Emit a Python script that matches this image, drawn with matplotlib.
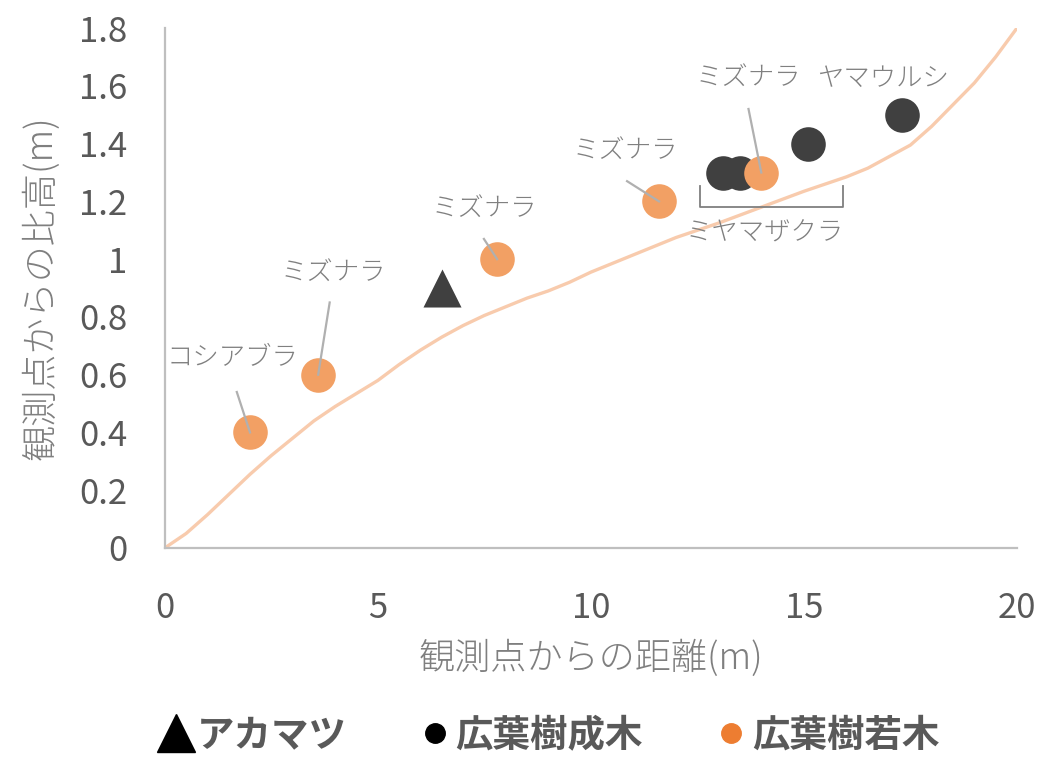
'''
Scatter of tree heights vs distance from the observation point, with sight line
'''

import matplotlib
matplotlib.use('Agg')
from matplotlib import pyplot as plt
from matplotlib.lines import Line2D

plt.rcParams['font.family'] = ['Noto Sans CJK JP', 'DejaVu Sans']

# sight line
curve_x = [0, 0.5, 1, 1.5, 2, 2.5, 3, 3.5, 4, 4.5, 5, 5.5, 6, 6.5, 7, 7.5, 8,
           8.5, 9, 9.5, 10, 11, 12, 13, 14, 15, 16, 16.5, 17, 17.5, 18, 18.5,
           19, 19.5, 20]
curve_y = [0, 0.05, 0.115, 0.185, 0.255, 0.32, 0.38, 0.44, 0.49, 0.535, 0.58,
           0.635, 0.685, 0.73, 0.77, 0.805, 0.835, 0.865, 0.89, 0.92, 0.955,
           1.015, 1.075, 1.125, 1.18, 1.235, 1.285, 1.315, 1.355, 1.395, 1.46,
           1.535, 1.61, 1.7, 1.8]

# アカマツ
pine_x = [6.5]
pine_y = [0.9]

# 広葉樹成木
adult_x = [13.1, 13.5, 15.1, 17.3]
adult_y = [1.3, 1.3, 1.4, 1.5]

# 広葉樹若木
young_x = [2.0, 3.6, 7.8, 11.6, 14.0]
young_y = [0.4, 0.6, 1.0, 1.2, 1.3]

# species labels: text, text position, leader line start (None = no line), point
labels = [
    ('コシアブラ', (1.6, 0.66), (1.69, 0.54), (2.0, 0.4)),
    ('ミズナラ', (3.95, 0.955), (3.87, 0.85), (3.6, 0.6)),
    ('ミズナラ', (7.5, 1.176), (7.49, 1.07), (7.8, 1.0)),
    ('ミズナラ', (10.8, 1.377), (10.85, 1.27), (11.6, 1.2)),
    ('ミズナラ', (13.7, 1.63), (13.7, 1.52), (14.0, 1.3)),
    ('ヤマウルシ', (16.85, 1.626), None, None),
]

fig = plt.figure(figsize=(10.43, 7.6), dpi=100)
ax = fig.add_axes([0.158, 0.279, 0.817, 0.684])

ax.plot(curve_x, curve_y, color='#f8cbad', lw=2.4, zorder=1)

ax.scatter(pine_x, pine_y, marker='^', s=750, color='#404040', lw=0, zorder=3)
ax.scatter(adult_x, adult_y, marker='o', s=620, color='#404040', lw=0, zorder=3)
ax.scatter(young_x, young_y, marker='o', s=620, color='#f2a064', lw=0, zorder=4)

for text, tpos, lstart, pt in labels:
    ax.text(tpos[0], tpos[1], text, ha='center', va='center',
            fontsize=19, color='#808080', fontweight='light')
    if lstart is not None:
        ax.plot([lstart[0], pt[0]], [lstart[1], pt[1]], color='#b0b0b0',
                lw=1.6, zorder=5)

# bracket for ミヤマザクラ
ax.plot([12.56, 12.56, 15.92, 15.92], [1.255, 1.18, 1.18, 1.255],
        color='#7f7f7f', lw=1.3, zorder=2)
ax.text(14.08, 1.093, 'ミヤマザクラ', ha='center', va='center',
        fontsize=19, color='#808080', fontweight='light')

ax.set_xlim(0, 20)
ax.set_ylim(0, 1.8)
ax.set_xticks([0, 5, 10, 15, 20])
ax.set_yticks([0, 0.2, 0.4, 0.6, 0.8, 1, 1.2, 1.4, 1.6, 1.8])
ax.set_yticklabels(['0', '0.2', '0.4', '0.6', '0.8', '1', '1.2', '1.4', '1.6', '1.8'])
ax.tick_params(axis='both', length=0, labelsize=25, labelcolor='#595959')
ax.tick_params(axis='y', pad=27)
ax.tick_params(axis='x', pad=31)

for side in ['top', 'right']:
    ax.spines[side].set_visible(False)
for side in ['left', 'bottom']:
    ax.spines[side].set_color('#bfbfbf')
    ax.spines[side].set_linewidth(1.6)

ax.set_xlabel('観測点からの距離(m)', fontsize=26, color='#7f7f7f',
              fontweight='light', labelpad=10)
ax.set_ylabel('観測点からの比高(m)', fontsize=26, color='#7f7f7f',
              fontweight='light', labelpad=13)

handles = [
    Line2D([], [], ls='', marker='^', color='black', ms=28),
    Line2D([], [], ls='', marker='o', color='black', ms=14),
    Line2D([], [], ls='', marker='o', color='#ed7d31', ms=14),
]
fig.legend(handles, ['アカマツ', '広葉樹成木', '広葉樹若木'], loc='center',
           bbox_to_anchor=(0.525, 0.033), ncol=3, frameon=False,
           prop={'size': 27, 'weight': 'bold'}, labelcolor='#595959',
           handletextpad=0.0, columnspacing=1.8, handlelength=1.1)

fig.savefig('out.png', dpi=100)
